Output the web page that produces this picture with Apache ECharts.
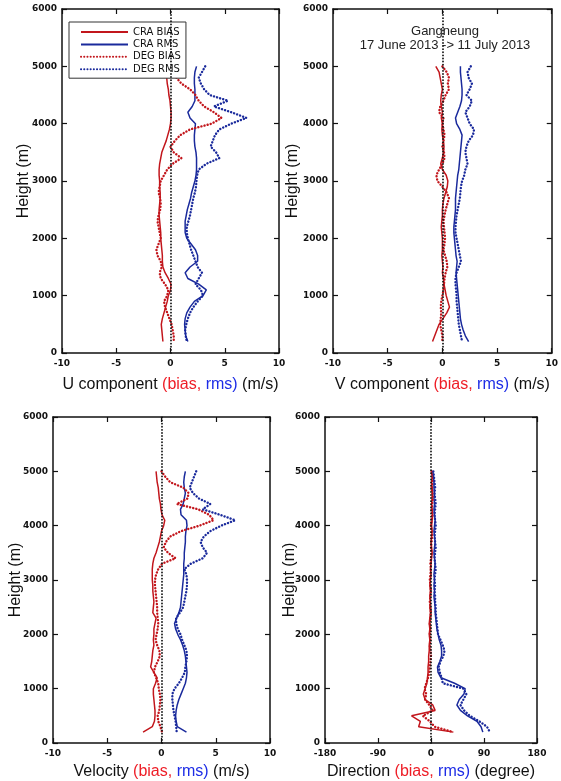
<!DOCTYPE html>
<html><head><meta charset="utf-8">
<script src="https://cdn.jsdelivr.net/npm/echarts@6/dist/echarts.min.js"></script>
<style>html,body{margin:0;padding:0;background:#fff}#c{width:561px;height:781px}</style>
</head><body><div id="c"></div>
<script>
// Heights (m), top to bottom
const heights=[5000,4900,4800,4700,4600,4500,4400,4300,4200,4100,4000,3900,3800,3700,3600,3500,3400,3300,3200,3100,3000,2900,2800,2700,2600,2500,2400,2300,2200,2100,2000,1900,1800,1700,1600,1500,1400,1300,1200,1100,1000,900,800,700,600,500,400,300,200];

// U component (m/s)
const uCraBias=[-0.3,-0.4,-0.35,-0.3,-0.2,-0.15,-0.05,0,0.05,0.05, 0.0,-0.1,-0.25,-0.4,-0.6,-0.8,-0.9,-1.0,-1.05,-1.05, -1.0,-1.0,-0.95,-0.95,-1.0,-1.05,-1.05,-1.0,-0.95,-0.9, -0.9,-0.85,-0.8,-0.75,-0.75,-0.7,-0.5,-0.2,0.05,0.0, -0.2,-0.3,-0.45,-0.6,-0.75,-0.85,-0.8,-0.75,-0.7];
const uDegBias=[0.0,0.3,0.55,1.0,1.8,2.3,2.6,3.1,4.0,4.7, 3.8,1.8,0.9,0.4,0.0,0.3,1.0,0.2,-0.3,-0.6, -0.9,-1.0,-1.1,-0.95,-0.9,-0.95,-1.1,-1.2,-1.1,-1.0, -0.9,-1.1,-1.3,-1.2,-0.9,-0.8,-1.0,-0.9,-0.5,-0.2, -0.3,-0.6,-0.5,-0.3,-0.1,0.1,0.2,0.3,0.3];
const uCraRms=[2.4,2.25,2.2,2.2,2.25,2.25,2.25,2.0,1.6,1.8, 2.3,2.25,2.2,2.2,2.25,2.35,2.4,2.4,2.4,2.35, 2.25,2.1,1.95,1.85,1.7,1.55,1.45,1.35,1.35,1.35, 1.5,1.9,2.3,2.5,2.5,1.8,1.35,1.6,2.6,3.3, 3.0,2.2,1.8,1.5,1.35,1.3,1.35,1.4,1.6];
const uDegRms=[3.2,2.9,2.6,2.8,3.1,3.6,5.3,4.0,5.6,7.0, 5.6,4.5,4.1,3.9,3.7,4.2,4.5,3.3,2.6,2.45, 2.4,2.35,2.25,2.1,2.0,1.9,1.8,1.65,1.5,1.5, 1.6,1.75,1.9,2.1,2.3,2.5,2.9,2.6,2.3,2.8, 3.0,2.5,2.1,1.8,1.6,1.45,1.35,1.4,1.5];

// V component (m/s)
const vCraBias=[-0.6,-0.3,-0.2,-0.1,0.0,-0.1,-0.15,-0.1,0.0,-0.1, 0.0,-0.05,0.0,0.1,0.15,0.1,0.0,-0.15,0.0,0.35, 0.5,0.45,0.3,0.15,0.05,0.0,0.0,-0.05,-0.1,-0.05, 0.0,0.0,0.0,-0.05,0.0,0.05,0.0,0.1,0.15,0.25, 0.35,0.5,0.65,0.4,0.05,-0.3,-0.5,-0.7,-0.9];
const vDegBias=[0.0,0.4,0.6,0.5,0.6,0.3,0.1,-0.2,-0.3,0.1, 0.0,0.1,0.2,0.1,0.0,0.15,0.2,0.0,-0.3,-0.55, -0.45,0.0,0.4,0.6,0.45,0.3,0.2,0.1,0.15,0.2, 0.25,0.2,0.1,0.25,0.4,0.45,0.3,0.2,0.15,0.1, 0.0,-0.1,-0.15,-0.1,-0.15,-0.2,-0.1,0.0,0.0];
const vCraRms=[1.65,1.65,1.7,1.75,1.8,1.8,1.75,1.6,1.4,1.2, 1.3,1.6,1.8,1.75,1.7,1.65,1.6,1.55,1.5,1.4, 1.35,1.3,1.25,1.2,1.2,1.2,1.15,1.1,1.05,1.05, 1.1,1.15,1.2,1.25,1.35,1.3,1.25,1.3,1.35,1.4, 1.45,1.5,1.55,1.6,1.65,1.75,1.9,2.1,2.4];
const vDegRms=[2.6,2.3,2.4,2.7,2.5,2.2,2.7,2.5,2.1,2.3, 2.5,2.9,2.8,2.4,2.2,2.1,2.2,2.3,2.1,2.0, 1.8,1.7,1.65,1.6,1.5,1.4,1.3,1.25,1.2,1.2, 1.3,1.4,1.5,1.6,1.7,1.5,1.3,1.2,1.2,1.25, 1.3,1.3,1.35,1.4,1.45,1.5,1.6,1.7,1.8];

// Velocity (m/s)
const velCraBias=[-0.5,-0.45,-0.4,-0.3,-0.25,-0.2,-0.1,-0.05,0.05,0.3, 0.2,0.0,-0.1,-0.2,-0.35,-0.5,-0.7,-0.8,-0.85,-0.85, -0.85,-0.8,-0.8,-0.75,-0.7,-0.75,-0.8,-0.5,-0.6,-0.7, -0.7,-0.75,-0.7,-0.8,-0.85,-0.9,-1.0,-0.7,-0.4,-0.55, -0.75,-0.75,-0.7,-0.65,-0.6,-0.6,-0.65,-0.85,-1.7];
const velDegBias=[0.0,0.35,0.8,2.0,2.5,2.4,1.4,3.4,4.4,4.8, 3.5,1.8,0.8,0.4,0.2,0.6,1.3,0.05,-0.3,-0.5, -0.6,-0.6,-0.55,-0.5,-0.45,-0.4,-0.4,-0.35,-0.3,-0.35, -0.45,-0.55,-0.4,-0.2,-0.15,-0.35,-0.6,-0.7,-0.5,-0.3, -0.25,-0.15,-0.1,-0.15,-0.2,-0.35,-0.3,-0.1,0.05];
const velCraRms=[2.2,2.1,2.05,2.1,2.2,2.1,2.0,1.75,1.8,2.3, 2.35,2.25,2.2,2.2,2.15,2.1,2.1,2.05,2.05,2.05, 2.0,1.95,1.9,1.85,1.8,1.75,1.6,1.4,1.2,1.3, 1.5,1.75,1.95,2.1,2.2,2.25,2.3,2.35,2.3,2.2, 2.0,1.8,1.6,1.45,1.35,1.3,1.35,1.45,2.3];
const velDegRms=[3.2,3.0,2.8,2.6,2.9,3.45,4.5,3.8,5.4,6.8, 5.5,4.5,3.9,3.6,3.8,4.2,3.8,2.7,2.1,2.3, 2.35,2.35,2.3,2.2,2.1,2.0,1.7,1.35,1.35,1.5, 1.75,1.9,2.1,2.3,2.35,2.3,2.2,2.15,1.9,1.6, 1.2,1.0,1.0,1.05,1.1,1.2,1.3,1.35,1.4];

// Direction (degree)
const dirCraBias=[1,2,1,2,3,2,1,2,3,2, 1,2,1,0,1,2,1,0,-1,0, -1,-2,-1,-2,-1,-2,-1,-2,-3,-2, -3,-2,-3,-3,-4,-4,-5,-5,-6,-7, -10,-13,-10,3,7,-33,-18,-21,38];
const dirDegBias=[1,3,2,1,2,3,2,1,2,1, 0,1,2,1,0,1,0,-1,0,-1, -2,-1,0,-1,-2,-1,0,-1,-2,-1, -2,-1,-2,-1,0,-1,-2,-3,-5,-8, -11,-8,-10,-3,3,-14,-2,6,38];
const dirCraRms=[3,4,5,5,6,5,6,5,6,7, 6,5,6,7,6,5,6,7,6,5, 6,5,6,5,6,7,7,8,9,10, 12,14,17,18,18,15,11,12,17,40, 58,56,48,44,50,62,78,85,88];
const dirDegRms=[4,5,6,7,6,7,8,7,6,7, 8,7,6,7,8,7,6,7,8,7, 6,7,6,7,7,8,8,9,10,11, 12,16,20,23,21,16,13,15,18,20, 55,60,55,50,56,66,82,95,100];

const seriesNames=['CRA BIAS','CRA RMS','DEG BIAS','DEG RMS'];
const xTitles=['U component','V component','Velocity','Direction'];
const xUnits=['(m/s)','(m/s)','(m/s)','(degree)'];
const xMins=[-10,-10,-10,-180], xMaxs=[10,10,10,180], xSteps=[5,5,5,90];

const panels=[
  [uCraBias,uCraRms,uDegBias,uDegRms],
  [vCraBias,vCraRms,vDegBias,vDegRms],
  [velCraBias,velCraRms,velDegBias,velDegRms],
  [dirCraBias,dirCraRms,dirDegBias,dirDegRms]
];

const RED='#c2161c', BLUE='#1a2a9c';
const grid=[
  {left:62,top:9,width:217,height:344},
  {left:333,top:9,width:219,height:344},
  {left:53,top:417,width:217,height:327},
  {left:325,top:417,width:212,height:327}
];
const yNameGaps=[30,32,29,27];
const xNameGaps=[24,24,21,21];

const axLine={show:true,onZero:false,lineStyle:{color:'#111',width:1.5}};
const axTick={show:true,inside:true,length:5,lineStyle:{color:'#111',width:1.2}};
const tickFont={fontSize:9,fontWeight:'bold',fontFamily:'DejaVu Sans',color:'#111'};
const nameRich={
  t:{fontSize:16,fontFamily:'Liberation Sans',color:'#111'},
  r:{fontSize:16,fontFamily:'Liberation Sans',color:'#ee1d26'},
  b:{fontSize:16,fontFamily:'Liberation Sans',color:'#1d2ce6'}
};
const plain=v=>String(v);

const xAxis=[], yAxis=[], series=[];
for(let i=0;i<4;i++){
  xAxis.push({gridIndex:i,type:'value',min:xMins[i],max:xMaxs[i],interval:xSteps[i],position:'bottom',
    axisLine:axLine,axisTick:axTick,splitLine:{show:false},axisLabel:Object.assign({margin:6,formatter:plain},tickFont),
    name:'{t|'+xTitles[i]+' }{r|(bias, }{b|rms)}{t| '+xUnits[i]+'}',nameLocation:'middle',nameGap:xNameGaps[i],
    nameMoveOverlap:false,nameTextStyle:{rich:nameRich}});
  xAxis.push({gridIndex:i,type:'value',min:xMins[i],max:xMaxs[i],interval:xSteps[i],position:'top',
    axisLine:axLine,axisTick:axTick,splitLine:{show:false},axisLabel:{show:false}});
  yAxis.push({gridIndex:i,type:'value',min:0,max:6000,interval:1000,position:'left',
    axisLine:axLine,axisTick:axTick,splitLine:{show:false},
    axisLabel:Object.assign({margin:5,formatter:plain},tickFont),
    name:'Height (m)',nameLocation:'middle',nameGap:yNameGaps[i],nameMoveOverlap:false,
    nameTextStyle:{fontSize:16,fontFamily:'Liberation Sans',color:'#111'}});
  yAxis.push({gridIndex:i,type:'value',min:0,max:6000,interval:1000,position:'right',
    axisLine:axLine,axisTick:axTick,splitLine:{show:false},axisLabel:{show:false}});
  const arrs=panels[i];
  for(let k=0;k<4;k++){
    const dotted=k>=2;
    const col=(k%2===0)?RED:BLUE;
    const s={
      name:seriesNames[k],type:'line',xAxisIndex:2*i,yAxisIndex:2*i,
      symbol:'none',showSymbol:false,silent:true,
      data:heights.map((h,j)=>[arrs[k][j],h]),
      lineStyle:dotted?{color:col,width:2.4,type:[0.1,3.1],cap:'round'}:{color:col,width:1.5},
      itemStyle:{color:col},
      z:3
    };
    if(k===0){
      s.markLine={silent:true,symbol:'none',label:{show:false},animation:false,
        lineStyle:{color:'#111',width:1.8,type:[0.1,3],cap:'round'},
        data:[{xAxis:0}]};
    }
    series.push(s);
  }
}

const chart=echarts.init(document.getElementById('c'),null,{renderer:'canvas'});
chart.setOption({
  animation:false,
  backgroundColor:'#fff',
  grid:grid,
  xAxis:xAxis,
  yAxis:yAxis,
  legend:{data:seriesNames,orient:'vertical',left:69,top:22,itemWidth:47,itemHeight:10,itemGap:2.4,
    padding:[5,5,4,11],borderColor:'#333',borderWidth:1,backgroundColor:'#fff',selectedMode:false,
    itemStyle:{opacity:0,borderWidth:0},
    textStyle:{fontSize:10,fontFamily:'DejaVu Sans',color:'#111'}},
  graphic:[
    {type:'text',x:445,y:31,style:{text:'Gangneung',textAlign:'center',textVerticalAlign:'middle',fontSize:13,fontFamily:'Liberation Sans',fill:'#222'}},
    {type:'text',x:445,y:45,style:{text:'17 June 2013 -> 11 July 2013',textAlign:'center',textVerticalAlign:'middle',fontSize:13,fontFamily:'Liberation Sans',fill:'#222'}}
  ],
  series:series
});
</script></body></html>
